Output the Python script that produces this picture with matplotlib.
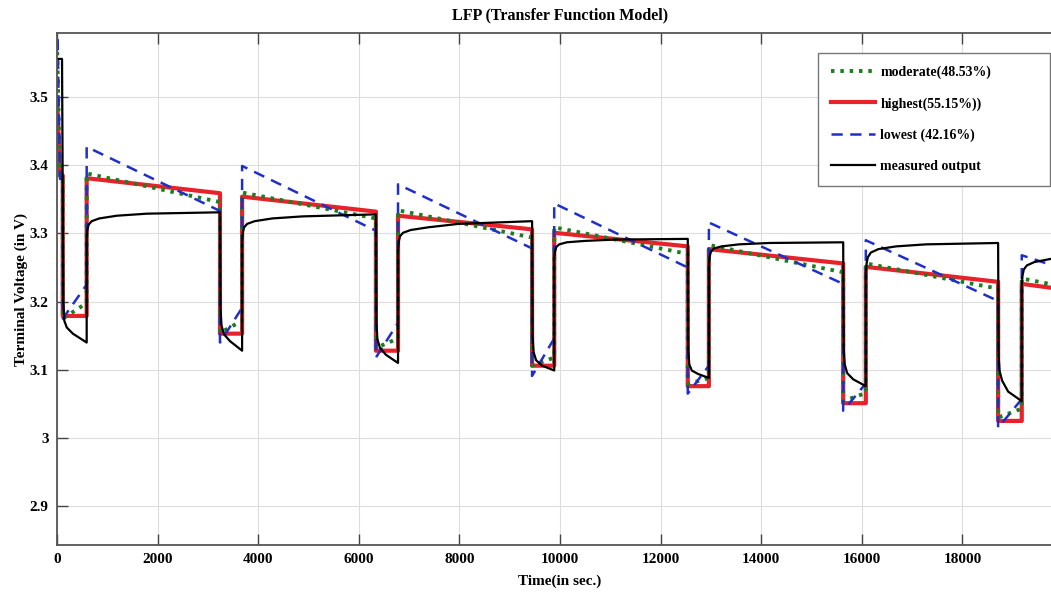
import matplotlib.pyplot as plt

# pulse timing (s)
pulse_start = [115, 3240, 6340, 9445, 12540, 15630, 18710]
pulse_end = [590, 3680, 6780, 9885, 12960, 16080, 19180]
t_stop = 20000

# model outputs: start of record, then rest / pulse levels per cycle
init_t = [0, 60]
red_init = [3.50, 3.385]
green_init = [3.58, 3.382]
blue_init = [3.64, 3.380]

red_rest_start = [3.381, 3.354, 3.326, 3.301, 3.277, 3.251, 3.226]
red_rest_end = [3.359, 3.332, 3.306, 3.281, 3.256, 3.229, 3.218]
red_pulse_lo = [3.179, 3.153, 3.128, 3.106, 3.076, 3.051, 3.025]
red_pulse_hi = [3.179, 3.153, 3.128, 3.106, 3.076, 3.051, 3.025]

green_rest_start = [3.388, 3.360, 3.334, 3.309, 3.283, 3.256, 3.234]
green_rest_end = [3.346, 3.322, 3.294, 3.270, 3.243, 3.219, 3.222]
green_pulse_lo = [3.175, 3.154, 3.132, 3.106, 3.079, 3.054, 3.030]
green_pulse_hi = [3.198, 3.172, 3.146, 3.118, 3.088, 3.066, 3.043]

blue_rest_start = [3.427, 3.399, 3.372, 3.344, 3.316, 3.290, 3.268]
blue_rest_end = [3.333, 3.304, 3.278, 3.250, 3.226, 3.201, 3.248]
blue_pulse_lo = [3.175, 3.140, 3.118, 3.091, 3.065, 3.040, 3.015]
blue_pulse_hi = [3.225, 3.191, 3.169, 3.146, 3.106, 3.080, 3.057]

# measured output
black_init_t = [0, 100]
black_init = [3.556, 3.556]
black_pulse_off = [10, 30, 80, 200]          # + value at pulse end
black_pulse_v = [
    [3.200, 3.172, 3.162, 3.153, 3.140],
    [3.190, 3.165, 3.152, 3.142, 3.128],
    [3.170, 3.145, 3.132, 3.122, 3.110],
    [3.150, 3.126, 3.114, 3.106, 3.099],
    [3.130, 3.108, 3.099, 3.094, 3.088],
    [3.130, 3.108, 3.095, 3.086, 3.076],
    [3.120, 3.098, 3.084, 3.068, 3.054],
]
black_rest_off = [0, 15, 40, 100, 250, 600, 1200]   # + value at next drop
black_rest_v = [
    [3.295, 3.306, 3.313, 3.318, 3.322, 3.326, 3.329, 3.331],
    [3.290, 3.302, 3.309, 3.314, 3.318, 3.322, 3.325, 3.328],
    [3.275, 3.288, 3.296, 3.301, 3.305, 3.309, 3.314, 3.318],
    [3.262, 3.273, 3.280, 3.284, 3.287, 3.289, 3.291, 3.292],
    [3.255, 3.266, 3.273, 3.278, 3.281, 3.284, 3.286, 3.287],
    [3.240, 3.256, 3.265, 3.272, 3.277, 3.281, 3.284, 3.286],
    [3.222, 3.238, 3.247, 3.253, 3.258, 3.263, 3.267, 3.266],
]


def model_curve(init_v, rs, re, plo, phi):
    t = [init_t[0], init_t[1], pulse_start[0]]
    v = [init_v[0], init_v[1], init_v[1]]
    for k in range(len(pulse_start)):
        nxt = pulse_start[k + 1] if k + 1 < len(pulse_start) else t_stop
        t += [pulse_start[k], pulse_end[k], pulse_end[k], nxt]
        v += [plo[k], phi[k], rs[k], re[k]]
    return t, v


def measured_curve():
    t = list(black_init_t)
    v = list(black_init)
    for k in range(len(pulse_start)):
        nxt = pulse_start[k + 1] if k + 1 < len(pulse_start) else t_stop
        t += [pulse_start[k] + o for o in black_pulse_off] + [pulse_end[k]]
        v += black_pulse_v[k]
        for o, val in zip(black_rest_off, black_rest_v[k][:-1]):
            if pulse_end[k] + o < nxt:
                t.append(pulse_end[k] + o)
                v.append(val)
        t.append(nxt)
        v.append(black_rest_v[k][-1])
    return t, v


plt.rcParams['font.family'] = 'Liberation Serif'
plt.rcParams['font.weight'] = 'bold'

fig = plt.figure(figsize=(10.51, 5.94), dpi=100)
ax = fig.add_axes([57 / 1051, 49 / 594, 1006 / 1051, 512 / 594])

tr, vr = model_curve(red_init, red_rest_start, red_rest_end, red_pulse_lo, red_pulse_hi)
tg, vg = model_curve(green_init, green_rest_start, green_rest_end, green_pulse_lo, green_pulse_hi)
tb, vb = model_curve(blue_init, blue_rest_start, blue_rest_end, blue_pulse_lo, blue_pulse_hi)
tm, vm = measured_curve()

l_red, = ax.plot(tr, vr, color='#e8222a', lw=3, label='highest(55.15%))')
l_green, = ax.plot(tg, vg, color='#1e7d1e', lw=2.8, ls=(0, (0.9, 1.5)), label='moderate(48.53%)')
l_blue, = ax.plot(tb, vb, color='#1f2fc8', lw=1.8, ls=(0, (4.5, 3)), label='lowest (42.16%)')
l_black, = ax.plot(tm, vm, color='black', lw=1.6, label='measured output')

ax.set_xlim(0, 20000)
ax.set_ylim(2.843, 3.594)
ax.set_xticks(range(0, 20000, 2000))
ax.set_yticks([2.9, 3.0, 3.1, 3.2, 3.3, 3.4, 3.5])
ax.set_yticklabels(['2.9', '3', '3.1', '3.2', '3.3', '3.4', '3.5'])
ax.tick_params(direction='in', length=8, width=1, color='#444444',
               top=True, right=True, labelsize=11, pad=6)
for lab in ax.get_xticklabels() + ax.get_yticklabels():
    lab.set_fontweight('bold')
ax.grid(True, color='#dddddd', lw=0.8)
for s in ax.spines.values():
    s.set_color('#555555')
    s.set_linewidth(1.3)

ax.set_title('LFP (Transfer Function Model)', fontsize=11.5, fontweight='bold', pad=10)
ax.set_xlabel('Time(in sec.)', fontsize=11, fontweight='bold', labelpad=6)
ax.set_ylabel('Terminal Voltage (in V)', fontsize=11, fontweight='bold', labelpad=1)

leg = ax.legend(handles=[l_green, l_red, l_blue, l_black], loc='upper left',
                bbox_to_anchor=(818 / 1051, 1 - 184 / 594, 232 / 1051, 131 / 594),
                bbox_transform=fig.transFigure, mode='expand',
                fancybox=False, edgecolor='#777777', framealpha=1, fontsize=10,
                handlelength=3.2, handletextpad=0.4, labelspacing=1.3,
                borderpad=0.9, borderaxespad=0)
leg.get_frame().set_linewidth(1.0)
for txt in leg.get_texts():
    txt.set_fontweight('bold')

fig.savefig('out.png', dpi=100)
